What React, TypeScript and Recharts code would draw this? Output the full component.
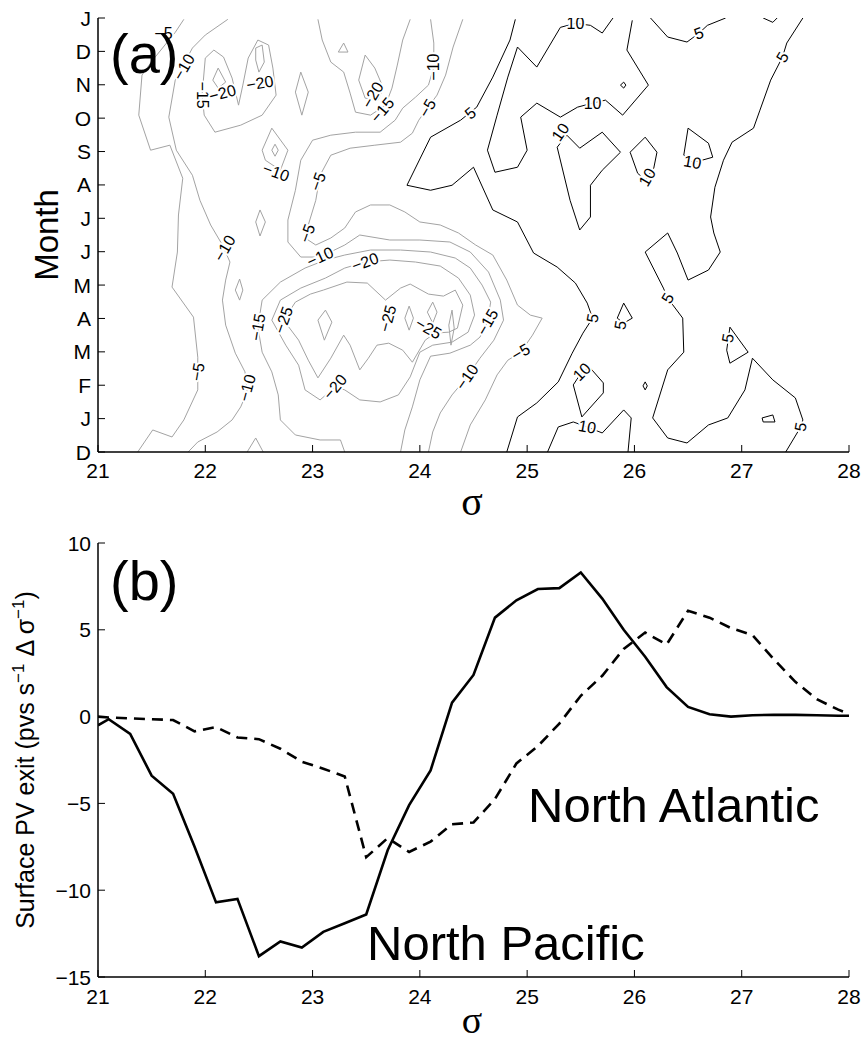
import React from 'react';
import { ComposedChart, Line, Scatter, XAxis, YAxis } from 'recharts';

const FONT = '"Liberation Sans", Arial, Helvetica, sans-serif';
const SERIF = '"Liberation Serif", "Times New Roman", serif';
const GRAY = '#a3a3a3';
const TICK_LEN = 7;

// axes
const sigmaTicks = [21, 22, 23, 24, 25, 26, 27, 28];
const monthTicks = [0, 1, 2, 3, 4, 5, 6, 7, 8, 9, 10, 11, 12, 13];
const monthLabels = ['D', 'J', 'F', 'M', 'A', 'M', 'J', 'J', 'A', 'S', 'O', 'N', 'D', 'J'];
const pvTicks = [-15, -10, -5, 0, 5, 10];

// panel (b): surface PV exit vs sigma
const sigmaB = [21.0, 21.1, 21.3, 21.5, 21.7, 21.9, 22.1, 22.3, 22.5, 22.7, 22.9, 23.1, 23.3, 23.5, 23.7, 23.9, 24.1, 24.3, 24.5, 24.7, 24.9, 25.1, 25.3, 25.5, 25.7, 25.9, 26.1, 26.3, 26.5, 26.7, 26.9, 27.1, 27.3, 27.5, 27.7, 27.9, 28.0];
const northPacific = [-0.5, -0.15, -1.0, -3.4, -4.45, -7.5, -10.7, -10.5, -13.8, -12.95, -13.3, -12.4, -11.9, -11.4, -7.7, -5.1, -3.1, 0.8, 2.4, 5.7, 6.7, 7.35, 7.4, 8.3, 6.8, 5.0, 3.45, 1.7, 0.56, 0.13, 0.0, 0.08, 0.1, 0.1, 0.08, 0.05, 0.05];
const northAtlantic = [0.0, -0.05, -0.1, -0.15, -0.2, -0.85, -0.6, -1.2, -1.3, -1.85, -2.6, -3.0, -3.45, -8.1, -7.0, -7.8, -7.2, -6.2, -6.1, -4.75, -2.7, -1.7, -0.4, 1.2, 2.35, 3.9, 4.84, 4.15, 6.1, 5.7, 5.1, 4.7, 3.3, 2.0, 1.0, 0.4, 0.15];

// panel (a): contour polylines, [sigma, month index] (0 = D at bottom, 13 = J at top)
const neg5West = [[21.80, 12.96], [21.72, 12.57], [21.51, 11.74], [21.41, 11.29], [21.38, 10.09], [21.49, 9.04], [21.67, 9.19], [21.79, 8.20], [21.75, 7.10], [21.74, 5.99], [21.69, 4.94], [21.89, 4.04], [21.93, 2.84], [21.93, 1.86], [21.80, 0.96], [21.69, 0.45], [21.51, 0.66], [21.37, 0]];
const neg10West = [[22.21, 12.96], [22.00, 12.49], [21.88, 12.10], [21.72, 11.14], [21.66, 10.03], [21.73, 9.04], [21.88, 8.29], [21.95, 7.54], [22.05, 6.80], [22.16, 6.20], [22.23, 5.69], [22.19, 5.15], [22.16, 4.55], [22.19, 3.80], [22.28, 2.96], [22.37, 2.40], [22.39, 1.80], [22.33, 1.35], [22.25, 0.96], [22.11, 0.60], [21.93, 0.30], [21.84, 0]];
const neg15Winter = [[22.00, 11.80], [22.08, 12.04], [22.17, 11.83], [22.25, 11.20], [22.31, 10.39], [22.35, 10.99], [22.40, 11.80], [22.49, 12.34], [22.59, 12.19], [22.63, 11.50], [22.66, 10.69], [22.53, 10.09], [22.33, 9.79], [22.09, 9.58], [21.99, 10.09], [21.97, 10.69], [22.00, 11.80]];
const neg20WinterA = [[22.07, 11.14], [22.12, 11.50], [22.19, 11.08], [22.12, 10.90], [22.07, 11.14]];
const neg20WinterB = [[22.47, 12.10], [22.53, 12.19], [22.55, 11.68], [22.50, 11.38], [22.47, 11.74], [22.47, 12.10]];
const neg15Spike = [[22.89, 11.38], [22.96, 10.78], [22.90, 10.09], [22.84, 10.78], [22.89, 11.38]];
const neg10Pocket = [[22.53, 9.04], [22.62, 9.70], [22.77, 9.04], [22.70, 8.44], [22.56, 8.74], [22.53, 9.04]];
const neg10PocketCore = [[22.62, 9.04], [22.65, 9.22], [22.68, 9.04], [22.65, 8.86], [22.62, 9.04]];
const neg15North = [[23.91, 12.96], [23.84, 12.34], [23.79, 11.59], [23.74, 10.90], [23.68, 10.39], [23.54, 10.09], [23.40, 10.18], [23.35, 10.75], [23.29, 11.38], [23.17, 11.68], [23.09, 12.34], [23.05, 12.96]];
const neg20North = [[23.49, 11.89], [23.58, 11.50], [23.66, 10.90], [23.61, 10.54], [23.49, 10.60], [23.43, 11.14], [23.49, 11.89]];
const neg20NorthDot = [[23.24, 11.98], [23.29, 12.25], [23.33, 11.98], [23.24, 11.98]];
const neg10East = [[24.10, 12.96], [24.13, 12.25], [24.13, 11.53], [24.08, 10.99], [23.96, 10.63], [23.84, 10.30], [23.77, 9.94], [23.63, 9.58], [23.40, 9.58], [23.17, 9.49], [23.00, 9.34], [22.89, 8.74], [22.84, 7.84], [22.77, 6.95], [22.77, 6.29], [22.89, 5.84], [23.07, 5.84], [23.30, 6.20], [23.44, 6.50], [23.72, 6.35], [24.00, 6.35], [24.28, 6.29], [24.47, 5.99], [24.64, 5.39], [24.75, 4.55], [24.78, 3.95], [24.69, 3.35], [24.56, 2.81], [24.44, 2.25], [24.30, 1.71], [24.19, 1.17], [24.12, 0.60], [24.08, 0]];
const neg5East = [[24.40, 12.96], [24.31, 12.13], [24.24, 11.29], [24.16, 10.69], [24.07, 10.30], [23.99, 9.94], [23.93, 9.55], [23.82, 9.28], [23.58, 9.19], [23.35, 9.10], [23.17, 8.89], [23.07, 8.29], [23.03, 7.54], [22.96, 6.80], [22.93, 6.41], [23.03, 6.20], [23.17, 6.41], [23.30, 6.71], [23.40, 7.19], [23.54, 7.40], [23.72, 7.40], [23.86, 7.19], [24.00, 6.89], [24.19, 6.80], [24.36, 6.56], [24.52, 6.20], [24.68, 5.90], [24.81, 5.15], [24.91, 4.40], [25.03, 4.10], [25.14, 4.01], [25.05, 3.50], [24.94, 2.99], [24.82, 2.75], [24.72, 2.31], [24.61, 1.56], [24.47, 0.81], [24.38, 0]];
const neg15Spring = [[23.30, 0], [23.26, 0.36], [23.07, 0.36], [22.84, 0.51], [22.70, 0.96], [22.68, 1.71], [22.62, 2.40], [22.53, 2.99], [22.49, 3.74], [22.53, 4.55], [22.70, 5.09], [22.93, 5.51], [23.12, 5.75], [23.30, 5.90], [23.54, 6.05], [23.82, 6.05], [24.10, 5.99], [24.33, 5.81], [24.47, 5.51], [24.58, 5.00], [24.66, 4.49], [24.63, 3.89], [24.56, 3.44], [24.47, 3.20], [24.28, 2.96], [24.10, 2.87], [24.00, 2.16], [23.93, 1.35], [23.86, 0.66], [23.82, 0]];
const neg20Spring = [[22.62, 3.95], [22.70, 4.55], [22.89, 4.91], [23.12, 5.21], [23.30, 5.51], [23.49, 5.69], [23.72, 5.75], [23.96, 5.69], [24.19, 5.57], [24.36, 5.21], [24.47, 4.70], [24.51, 4.10], [24.45, 3.59], [24.30, 3.29], [24.12, 3.20], [24.00, 2.99], [23.91, 2.25], [23.80, 1.71], [23.63, 1.50], [23.44, 1.56], [23.30, 1.86], [23.21, 1.95], [23.07, 1.56], [22.93, 1.86], [22.87, 2.60], [22.75, 3.20], [22.62, 3.95]];
const neg25Spring = [[22.73, 3.95], [22.84, 4.49], [22.98, 4.73], [23.10, 4.85], [23.32, 5.09], [23.51, 5.06], [23.68, 4.55], [23.82, 4.91], [23.91, 5.03], [24.08, 4.73], [24.22, 4.67], [24.33, 4.85], [24.40, 4.40], [24.35, 3.71], [24.27, 3.59], [24.14, 3.56], [24.05, 3.35], [23.93, 2.69], [23.84, 3.05], [23.71, 3.26], [23.60, 3.20], [23.52, 2.81], [23.44, 2.46], [23.35, 3.20], [23.29, 3.50], [23.17, 2.81], [23.05, 2.22], [22.96, 2.75], [22.87, 3.35], [22.73, 3.95]];
const neg25CellA = [[23.86, 4.01], [23.90, 4.37], [23.94, 4.01], [23.90, 3.65], [23.86, 4.01]];
const neg25CellB = [[24.07, 4.19], [24.12, 4.49], [24.16, 4.19], [24.12, 3.86], [24.07, 4.19]];
const neg25CellC = [[24.27, 3.80], [24.30, 4.25], [24.32, 3.71], [24.29, 3.20], [24.27, 3.80]];
const neg25CellD = [[23.05, 3.95], [23.12, 4.25], [23.18, 3.89], [23.11, 3.35], [23.05, 3.95]];
const neg10CellE = [[22.28, 4.85], [22.32, 5.18], [22.35, 4.85], [22.32, 4.55], [22.28, 4.85]];
const neg10CellF = [[22.39, 0], [22.47, 0.42], [22.54, 0]];
const neg10CellG = [[22.47, 6.89], [22.51, 7.25], [22.56, 6.89], [22.51, 6.47], [22.47, 6.89]];

const pos5West = [[24.89, 12.96], [24.84, 12.34], [24.68, 11.23], [24.53, 10.33], [24.38, 9.94], [24.10, 9.43], [23.88, 7.99], [24.10, 7.84], [24.30, 7.99], [24.50, 8.53], [24.68, 7.25], [24.91, 6.89], [25.06, 5.96], [25.28, 5.54], [25.45, 5.06], [25.56, 4.46], [25.61, 4.01], [25.52, 3.56], [25.42, 2.96], [25.29, 2.10], [25.09, 1.47], [24.91, 1.05], [24.81, 0]];
const pos10North = [[25.80, 13.0], [25.70, 12.55], [25.59, 12.78], [25.45, 12.84], [25.31, 12.72], [25.09, 11.53], [24.91, 12.13], [24.82, 11.23], [24.72, 10.09], [24.63, 9.04], [24.70, 8.38], [24.91, 8.53], [25.00, 9.04], [24.94, 10.03], [25.09, 10.45], [25.31, 10.03], [25.47, 10.33], [25.61, 10.45], [25.73, 10.54], [25.89, 10.09], [26.13, 10.99], [25.93, 12.04], [25.98, 12.93]];
const pos10Summer = [[25.37, 9.49], [25.49, 9.10], [25.70, 9.58], [25.87, 8.98], [25.70, 8.44], [25.59, 7.99], [25.59, 7.04], [25.49, 6.65], [25.40, 7.54], [25.28, 9.13], [25.37, 9.49]];
const pos10Dot = [[25.87, 10.99], [25.90, 11.08], [25.92, 10.99], [25.90, 10.90], [25.87, 10.99]];
const pos10CellA = [[25.96, 8.98], [26.10, 9.43], [26.21, 8.98], [26.18, 8.50], [26.10, 8.15], [26.03, 8.35], [25.96, 8.98]];
const pos10CellB = [[26.46, 8.89], [26.50, 9.70], [26.69, 9.25], [26.73, 8.83], [26.63, 8.74], [26.54, 8.68], [26.46, 8.89]];
const pos5Top = [[26.15, 13.0], [26.31, 12.43], [26.49, 12.28], [26.60, 12.54], [26.68, 12.78], [26.85, 13.0]];
const pos5TopSmall = [[27.20, 13.0], [27.29, 12.87], [27.33, 13.0]];
const pos5East = [[27.57, 13.0], [27.42, 12.25], [27.38, 11.83], [27.27, 11.14], [27.17, 10.24], [27.11, 9.70], [26.91, 9.28], [26.83, 8.74], [26.75, 7.93], [26.71, 7.04], [26.74, 6.56], [26.80, 5.99], [26.69, 5.45], [26.50, 5.15], [26.40, 5.96], [26.31, 6.56], [26.10, 5.99], [26.27, 4.91], [26.31, 4.61], [26.45, 4.01], [26.46, 2.99], [26.31, 2.46], [26.17, 1.02], [26.31, 0.42], [26.49, 0.27], [26.69, 0.81], [26.87, 1.02], [27.03, 1.86], [27.10, 2.81], [27.29, 2.16], [27.50, 1.62], [27.57, 0.96], [27.55, 0.75], [27.41, 0]];
const pos5CellA = [[26.89, 3.74], [27.06, 2.99], [26.89, 2.66], [26.86, 3.05], [26.89, 3.74]];
const pos5CellB = [[27.19, 1.02], [27.29, 1.11], [27.31, 0.90], [27.20, 0.90], [27.19, 1.02]];
const pos5CellC = [[25.84, 4.01], [25.90, 4.46], [25.98, 4.01], [25.90, 3.86], [25.84, 4.01]];
const pos5CellD = [[26.08, 1.98], [26.10, 2.10], [26.12, 1.98], [26.10, 1.86], [26.08, 1.98]];
const pos10Spring = [[25.59, 2.51], [25.71, 2.07], [25.71, 1.77], [25.51, 1.05], [25.43, 2.01], [25.51, 2.40], [25.59, 2.51]];
const pos10Winter = [[25.19, 0], [25.29, 0.75], [25.43, 0.90], [25.56, 0.75], [25.70, 0.57], [25.90, 1.26], [25.97, 1.02], [25.94, 0]];

const negContours = [neg5West, neg10West, neg15Winter, neg20WinterA, neg20WinterB, neg15Spike, neg10Pocket, neg10PocketCore, neg15North, neg20North, neg20NorthDot, neg10East, neg5East, neg15Spring, neg20Spring, neg25Spring, neg25CellA, neg25CellB, neg25CellC, neg25CellD, neg10CellE, neg10CellF, neg10CellG];
const posContours = [pos5West, pos10North, pos10Summer, pos10Dot, pos10CellA, pos10CellB, pos5Top, pos5TopSmall, pos5East, pos5CellA, pos5CellB, pos5CellC, pos5CellD, pos10Spring, pos10Winter];

// contour labels: sigma, month, text, rotation
const contourLabels: [number, number, string, number][] = [
  [21.61, 12.55, '−5', 0], [21.80, 11.53, '−10', -60], [21.97, 10.69, '−15', 90], [22.16, 10.75, '−20', -15],
  [22.51, 11.05, '−20', -10], [22.66, 8.38, '−10', 20], [23.56, 10.69, '−20', -60], [23.65, 10.24, '−15', -50],
  [24.13, 11.53, '−10', -90], [24.07, 10.30, '−5', -60], [23.05, 8.10, '−5', -70], [22.95, 6.55, '−5', -70],
  [23.07, 5.84, '−10', -25], [22.18, 6.10, '−10', -60], [21.93, 2.40, '−5', -80], [22.39, 1.92, '−10', -75],
  [22.49, 3.74, '−15', -80], [22.73, 3.95, '−25', -70], [23.49, 5.69, '−20', -20], [23.21, 1.95, '−20', -50],
  [23.70, 4.00, '−25', -75], [24.08, 3.70, '−25', 30], [24.63, 3.89, '−15', -60], [24.44, 2.25, '−10', -55],
  [24.94, 2.99, '−5', -30],
  [25.45, 12.84, '10', 0], [26.60, 12.54, '5', -20], [27.38, 11.83, '5', -60], [24.47, 10.15, '5', -40],
  [25.61, 10.45, '10', 0], [25.31, 9.58, '10', -55], [26.12, 8.23, '10', -60], [26.54, 8.68, '10', 10],
  [25.61, 4.01, '5', -80], [25.87, 3.80, '5', -80], [26.31, 4.61, '5', -60], [26.87, 3.41, '5', -80],
  [25.51, 2.40, '10', -45], [25.56, 0.75, '10', 10], [27.55, 0.75, '5', -80],
];

const toPts = (arr: number[][]) => arr.map(([x, y]) => ({ x, y }));
const labelPts = contourLabels.map(([x, y, t, a]) => ({ x, y, t, a }));
const pvData = sigmaB.map((s, i) => ({ x: s, pac: northPacific[i], atl: northAtlantic[i] }));

const fmtNum = (v: number) => (v < 0 ? `−${Math.abs(v)}` : `${v}`);

function BottomTick(props: any) {
  const { x, y, payload, gap } = props;
  const axisY = y - gap;
  return (
    <g>
      <line x1={x} x2={x} y1={axisY} y2={axisY - TICK_LEN} stroke="#000" strokeWidth={1} />
      <text x={x} y={y + 15} textAnchor="middle" fontSize={21} fontFamily={FONT} fill="#000">
        {payload.value}
      </text>
    </g>
  );
}

function TopTick(props: any) {
  const { x, y } = props;
  return <line x1={x} x2={x} y1={y} y2={y + TICK_LEN} stroke="#000" strokeWidth={1} />;
}

function LeftTick(props: any) {
  const { x, y, payload, gap, format } = props;
  const axisX = x + gap;
  return (
    <g>
      <line x1={axisX} x2={axisX + TICK_LEN} y1={y} y2={y} stroke="#000" strokeWidth={1} />
      <text x={x} y={y + 7.5} textAnchor="end" fontSize={21} fontFamily={FONT} fill="#000">
        {format(payload.value)}
      </text>
    </g>
  );
}

function RightTick(props: any) {
  const { x, y } = props;
  return <line x1={x} x2={x - TICK_LEN} y1={y} y2={y} stroke="#000" strokeWidth={1} />;
}

function ContourLabel(props: any) {
  const { cx, cy, payload } = props;
  if (cx == null || cy == null) return <g />;
  return (
    <text
      x={cx}
      y={cy}
      transform={`rotate(${payload.a} ${cx} ${cy})`}
      textAnchor="middle"
      dominantBaseline="central"
      fontSize={16}
      fontFamily={FONT}
      fill="#000"
      stroke="#fff"
      strokeWidth={4}
      strokeLinejoin="round"
      paintOrder="stroke"
    >
      {payload.t}
    </text>
  );
}

const axisLine = { stroke: '#000', strokeWidth: 1.5 };

function ContourPanel() {
  return (
    <ComposedChart width={863} height={510} margin={{ top: 18, right: 14, bottom: 0, left: 0 }}>
      <XAxis xAxisId="main" type="number" dataKey="x" domain={[21, 28]} ticks={sigmaTicks} allowDataOverflow
        interval={0} height={58} tickSize={0} tickMargin={11} axisLine={axisLine} tickLine={false}
        tick={(p: any) => <BottomTick {...p} gap={11} />} />
      <XAxis xAxisId="top" orientation="top" type="number" dataKey="x" domain={[21, 28]} ticks={sigmaTicks} allowDataOverflow
        interval={0} height={0} tickSize={0} tickMargin={0} axisLine={axisLine} tickLine={false}
        tick={(p: any) => <TopTick {...p} />} />
      <YAxis yAxisId="main" type="number" dataKey="y" domain={[0, 13]} ticks={monthTicks} allowDataOverflow
        interval={0} width={98} tickSize={0} tickMargin={7} axisLine={axisLine} tickLine={false}
        tick={(p: any) => <LeftTick {...p} gap={7} format={(v: number) => monthLabels[v]} />} />
      <YAxis yAxisId="right" orientation="right" type="number" domain={[0, 13]} ticks={monthTicks} allowDataOverflow
        interval={0} width={0} tickSize={0} tickMargin={0} axisLine={axisLine} tickLine={false}
        tick={(p: any) => <RightTick {...p} />} />
      {negContours.map((c, i) => (
        <Line key={`n${i}`} xAxisId="main" yAxisId="main" data={toPts(c)} dataKey="y" type="linear"
          stroke={GRAY} strokeWidth={1} dot={false} activeDot={false} isAnimationActive={false} />
      ))}
      {posContours.map((c, i) => (
        <Line key={`p${i}`} xAxisId="main" yAxisId="main" data={toPts(c)} dataKey="y" type="linear"
          stroke="#000" strokeWidth={1} dot={false} activeDot={false} isAnimationActive={false} />
      ))}
      <Scatter xAxisId="main" yAxisId="main" data={labelPts} dataKey="y" shape={ContourLabel} isAnimationActive={false} />
    </ComposedChart>
  );
}

function ExitPanel() {
  return (
    <ComposedChart width={863} height={522} data={pvData} margin={{ top: 23, right: 14, bottom: 0, left: 0 }}>
      <XAxis xAxisId="main" type="number" dataKey="x" domain={[21, 28]} ticks={sigmaTicks} allowDataOverflow
        interval={0} height={65} tickSize={0} tickMargin={12} axisLine={axisLine} tickLine={false}
        tick={(p: any) => <BottomTick {...p} gap={12} />} />
      <XAxis xAxisId="top" orientation="top" type="number" dataKey="x" domain={[21, 28]} ticks={sigmaTicks} allowDataOverflow
        interval={0} height={0} tickSize={0} tickMargin={0} axisLine={axisLine} tickLine={false}
        tick={(p: any) => <TopTick {...p} />} />
      <YAxis yAxisId="main" type="number" domain={[-15, 10]} ticks={pvTicks} allowDataOverflow
        interval={0} width={98} tickSize={0} tickMargin={7} axisLine={axisLine} tickLine={false}
        tick={(p: any) => <LeftTick {...p} gap={7} format={fmtNum} />} />
      <YAxis yAxisId="right" orientation="right" type="number" domain={[-15, 10]} ticks={pvTicks} allowDataOverflow
        interval={0} width={0} tickSize={0} tickMargin={0} axisLine={axisLine} tickLine={false}
        tick={(p: any) => <RightTick {...p} />} />
      <Line xAxisId="main" yAxisId="main" dataKey="atl" type="linear" stroke="#000" strokeWidth={2.6}
        strokeDasharray="11 7" dot={false} activeDot={false} isAnimationActive={false} />
      <Line xAxisId="main" yAxisId="main" dataKey="pac" type="linear" stroke="#000" strokeWidth={2.6}
        dot={false} activeDot={false} isAnimationActive={false} />
    </ComposedChart>
  );
}

export default function App() {
  return (
    <div style={{ position: 'absolute', left: 0, top: 0, width: 863, height: 1042, background: '#fff', overflow: 'hidden' }}>
      <div style={{ position: 'absolute', left: 0, top: 0 }}>
        <ContourPanel />
      </div>
      <div style={{ position: 'absolute', left: 0, top: 520 }}>
        <ExitPanel />
      </div>
      <svg width={863} height={1042} style={{ position: 'absolute', left: 0, top: 0, pointerEvents: 'none' }}>
        <text x={110} y={73} fontSize={56} fontFamily={FONT} fill="#000">(a)</text>
        <text x={58} y={235} fontSize={33} fontFamily={FONT} fill="#000" textAnchor="middle" transform="rotate(-90 58 235)">Month</text>
        <text x={472} y={515} fontSize={40} fontFamily={SERIF} fill="#000" textAnchor="middle">σ</text>
        <text x={110} y={600} fontSize={56} fontFamily={FONT} fill="#000">(b)</text>
        <text x={34} y={760} fontSize={25} fontFamily={FONT} fill="#000" textAnchor="middle" transform="rotate(-90 34 760)">
          Surface PV exit (pvs s<tspan dy={-10} fontSize={17}>−1</tspan><tspan dy={10}> Δ σ</tspan><tspan dy={-10} fontSize={17}>−1</tspan><tspan dy={10}>)</tspan>
        </text>
        <text x={472} y={1033} fontSize={38} fontFamily={SERIF} fill="#000" textAnchor="middle">σ</text>
        <text x={528} y={822} fontSize={49} fontFamily={FONT} fill="#000">North Atlantic</text>
        <text x={367} y={960} fontSize={49} fontFamily={FONT} fill="#000">North Pacific</text>
      </svg>
    </div>
  );
}
